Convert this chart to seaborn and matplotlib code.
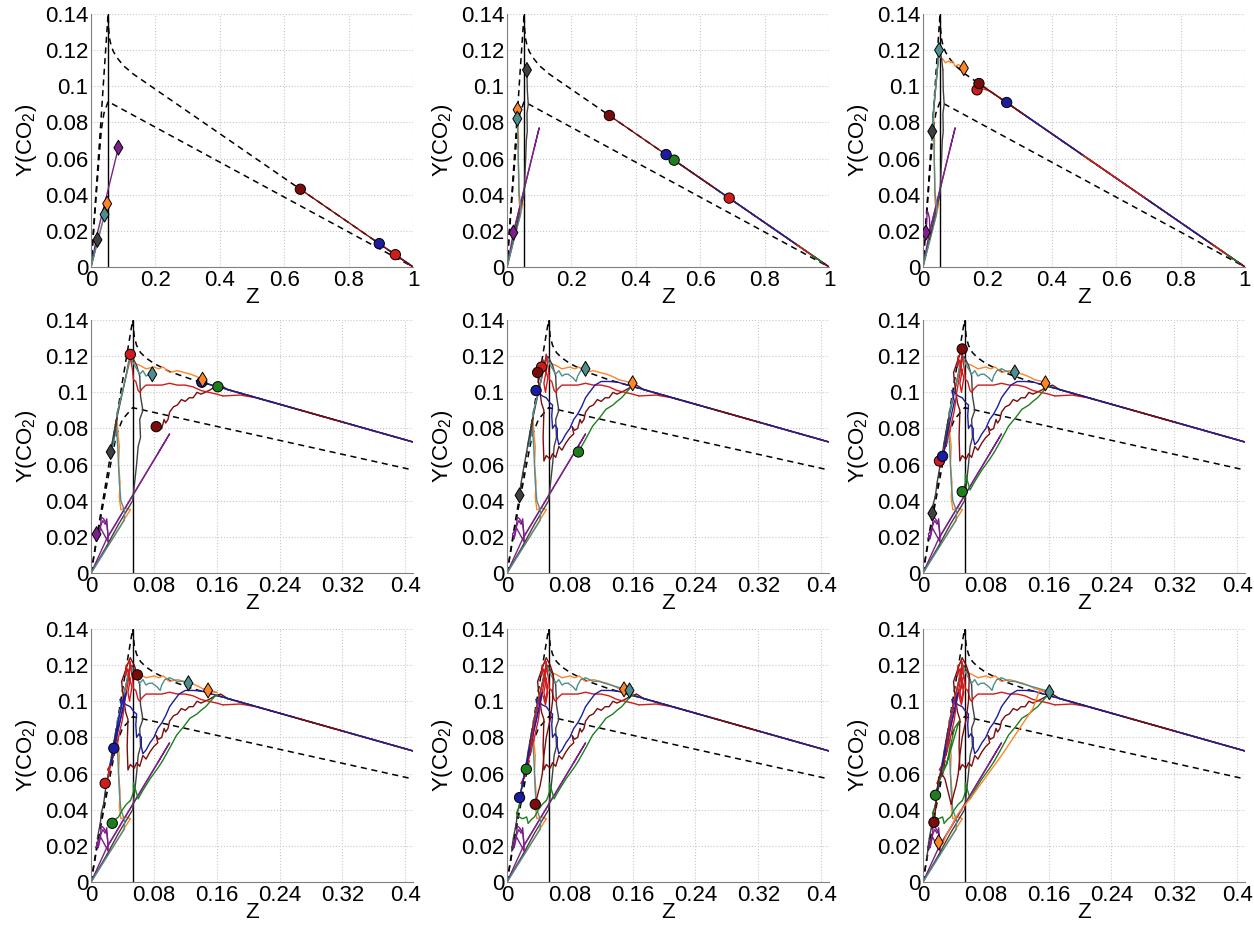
import numpy as np
import pandas as pd
import seaborn as sns
import matplotlib.pyplot as plt
from matplotlib.ticker import FormatStrFormatter

sns.set_style('white')
plt.rcParams['font.family'] = ['Liberation Sans', 'DejaVu Sans']
plt.rcParams['mathtext.fontset'] = 'custom'
plt.rcParams['mathtext.rm'] = 'Liberation Sans'
plt.rcParams['mathtext.it'] = 'Liberation Sans:italic'

# boundaries of the accessible region (dashed) and stoichiometric Z (solid)
upper_z = [0, 0.01, 0.02, 0.03, 0.04, 0.048, 0.053, 0.055, 0.058, 0.063, 0.07, 0.08, 0.1, 0.13, 1.0]
upper_y = [0, 0.027, 0.053, 0.079, 0.106, 0.127, 0.14, 0.131, 0.126, 0.122, 0.119, 0.116, 0.1115, 0.1069, 0.0]
lower_z = [0, 0.012, 0.024, 0.032, 0.04, 0.053, 1.0]
lower_y = [0, 0.03, 0.058, 0.076, 0.085, 0.0915, 0.0]
stoich_z = [0.053, 0.053]
stoich_y = [0.0, 0.14]

# particle paths, one list of (Z, Y) points per snapshot t1..t9
# the last point of each list is the particle position at that snapshot
orange = [
    [(0, 0), (0.05, 0.035)],
    [(0.045, 0.036), (0.038, 0.035), (0.036, 0.042), (0.037, 0.05), (0.035, 0.06), (0.036, 0.07), (0.034, 0.078), (0.033, 0.087)],
    [(0.037, 0.095), (0.044, 0.108), (0.05, 0.118), (0.055, 0.116), (0.062, 0.115), (0.07, 0.113), (0.08, 0.114), (0.086, 0.113), (0.092, 0.114), (0.1, 0.111), (0.11, 0.112), (0.127, 0.11)],
    [(0.133, 0.109), (0.138, 0.108), (0.142, 0.107)],
    [(0.152, 0.106), (0.16, 0.105)],
    [(0.156, 0.105)],
    [(0.149, 0.106)],
    [(0.149, 0.1066)],
    [(0.14, 0.096), (0.12, 0.083), (0.1, 0.07), (0.08, 0.058), (0.06, 0.046), (0.045, 0.038), (0.035, 0.03), (0.03, 0.026), (0.025, 0.021), (0.02, 0.022)],
]
purple = [
    [(0, 0), (0.02, 0.019), (0.085, 0.066)],
    [(0.1, 0.077), (0.02, 0.019)],
    [(0.022, 0.02), (0.02, 0.027), (0.016, 0.03), (0.013, 0.031), (0.012, 0.025), (0.009, 0.019)],
    [(0.012, 0.026), (0.015, 0.029), (0.018, 0.027), (0.02, 0.03), (0.021, 0.024), (0.022, 0.017), (0.012, 0.025), (0.007, 0.0215)],
    [(0.008, 0.02)],
    [(0.006, 0.019)],
    [(0.009, 0.022)],
    [(0.007, 0.02)],
    [(0.006, 0.02)],
]
gray = [
    [(0, 0), (0.02, 0.015)],
    [(0.035, 0.027), (0.053, 0.04), (0.056, 0.052), (0.058, 0.06), (0.06, 0.07), (0.063, 0.075), (0.062, 0.085), (0.066, 0.09), (0.063, 0.098), (0.062, 0.109)],
    [(0.058, 0.115), (0.052, 0.12), (0.048, 0.117), (0.045, 0.11), (0.04, 0.1), (0.035, 0.09), (0.031, 0.082), (0.029, 0.075)],
    [(0.031, 0.08), (0.033, 0.086), (0.028, 0.075), (0.025, 0.067)],
    [(0.022, 0.06), (0.02, 0.055), (0.018, 0.05), (0.016, 0.043)],
    [(0.013, 0.038), (0.012, 0.033)],
    [(0.008, 0.024)],
    [(0.006, 0.017)],
    [(0.005, 0.013)],
]
teal = [
    [(0, 0), (0.042, 0.029)],
    [(0.043, 0.034), (0.038, 0.04), (0.036, 0.05), (0.035, 0.06), (0.034, 0.07), (0.032, 0.082)],
    [(0.03, 0.076), (0.028, 0.07), (0.034, 0.09), (0.04, 0.1), (0.045, 0.11), (0.05, 0.12)],
    [(0.054, 0.116), (0.058, 0.113), (0.062, 0.11), (0.066, 0.112), (0.07, 0.109), (0.074, 0.11), (0.078, 0.11)],
    [(0.084, 0.108), (0.088, 0.106), (0.09, 0.109), (0.094, 0.112), (0.1, 0.113)],
    [(0.105, 0.112), (0.11, 0.111), (0.117, 0.111)],
    [(0.124, 0.11)],
    [(0.14, 0.108), (0.156, 0.106)],
    [(0.161, 0.105)],
]
green = [
    [(1.0, 0.0), (0.98, 0.0025)],
    [(0.519, 0.0591)],
    [(0.18, 0.1008)],
    [(0.1615, 0.1031)],
    [(0.158, 0.103), (0.152, 0.1), (0.146, 0.097), (0.14, 0.095), (0.135, 0.093), (0.126, 0.0906), (0.118, 0.086), (0.109, 0.0813), (0.1, 0.074), (0.091, 0.067)],
    [(0.085, 0.063), (0.075, 0.057), (0.065, 0.05), (0.06, 0.046), (0.056, 0.052), (0.054, 0.055), (0.054, 0.05), (0.052, 0.047), (0.05, 0.045)],
    [(0.045, 0.043), (0.04, 0.04), (0.035, 0.036), (0.032, 0.035), (0.027, 0.0325)],
    [(0.025, 0.036), (0.02, 0.035), (0.015, 0.036), (0.012, 0.038), (0.016, 0.042), (0.018, 0.05), (0.02, 0.056), (0.0246, 0.0624)],
    [(0.03, 0.065), (0.035, 0.075), (0.04, 0.085), (0.046, 0.089), (0.04, 0.08), (0.03, 0.065), (0.02, 0.055), (0.016, 0.048)],
]
darkred = [
    [(1.0, 0.0), (0.65, 0.043)],
    [(0.318, 0.0838)],
    [(0.174, 0.1015)],
    [(0.165, 0.104), (0.158, 0.103), (0.15, 0.101), (0.145, 0.1), (0.14, 0.099), (0.135, 0.1), (0.13, 0.097), (0.125, 0.097), (0.12, 0.095), (0.115, 0.096), (0.11, 0.093), (0.105, 0.092), (0.1, 0.089), (0.098, 0.085), (0.095, 0.083), (0.093, 0.085), (0.09, 0.08), (0.086, 0.079), (0.083, 0.081)],
    [(0.085, 0.077), (0.08, 0.075), (0.075, 0.072), (0.07, 0.068), (0.066, 0.07), (0.062, 0.064), (0.058, 0.066), (0.055, 0.063), (0.05, 0.065), (0.047, 0.062), (0.046, 0.075), (0.047, 0.09), (0.044, 0.094), (0.042, 0.1), (0.04, 0.106), (0.039, 0.111)],
    [(0.043, 0.116), (0.047, 0.121), (0.05, 0.124)],
    [(0.055, 0.12), (0.059, 0.1146)],
    [(0.058, 0.1), (0.055, 0.09), (0.05, 0.08), (0.047, 0.07), (0.045, 0.06), (0.042, 0.053), (0.04, 0.05), (0.036, 0.043)],
    [(0.032, 0.05), (0.028, 0.057), (0.024, 0.06), (0.02, 0.058), (0.018, 0.05), (0.016, 0.04), (0.014, 0.033)],
]
red = [
    [(1.0, 0.0), (0.945, 0.0068)],
    [(0.69, 0.0381)],
    [(0.23, 0.0946), (0.21, 0.097), (0.19, 0.0985), (0.168, 0.098)],
    [(0.16, 0.099), (0.15, 0.1), (0.14, 0.101), (0.13, 0.103), (0.12, 0.104), (0.11, 0.104), (0.1, 0.105), (0.09, 0.104), (0.08, 0.104), (0.07, 0.104), (0.065, 0.102), (0.062, 0.1), (0.06, 0.101), (0.057, 0.106), (0.054, 0.107), (0.053, 0.112), (0.051, 0.117), (0.05, 0.121)],
    [(0.048, 0.115), (0.052, 0.108), (0.049, 0.1), (0.047, 0.105), (0.05, 0.112), (0.046, 0.118), (0.044, 0.114)],
    [(0.045, 0.12), (0.05, 0.122), (0.047, 0.11), (0.043, 0.1), (0.04, 0.09), (0.035, 0.08), (0.03, 0.072), (0.026, 0.066), (0.021, 0.062)],
    [(0.025, 0.065), (0.022, 0.058), (0.018, 0.0546)],
    [(0.025, 0.06), (0.03, 0.075), (0.035, 0.09), (0.04, 0.1), (0.045, 0.11), (0.05, 0.118), (0.048, 0.112), (0.052, 0.105), (0.049, 0.098), (0.046, 0.103)],
    [(0.05, 0.11), (0.048, 0.118), (0.052, 0.114), (0.047, 0.106)],
]
blue = [
    [(1.0, 0.0), (0.895, 0.0129)],
    [(0.494, 0.0622)],
    [(0.26, 0.091)],
    [(0.141, 0.1056)],
    [(0.13, 0.106), (0.12, 0.106), (0.112, 0.104), (0.105, 0.1), (0.1, 0.097), (0.095, 0.092), (0.09, 0.088), (0.085, 0.085), (0.08, 0.08), (0.075, 0.077), (0.07, 0.073), (0.066, 0.071), (0.064, 0.075), (0.064, 0.08), (0.061, 0.082), (0.058, 0.08), (0.057, 0.087), (0.058, 0.093), (0.055, 0.094), (0.05, 0.097), (0.045, 0.098), (0.04, 0.1), (0.037, 0.101)],
    [(0.04, 0.095), (0.035, 0.085), (0.03, 0.075), (0.027, 0.068), (0.025, 0.0646)],
    [(0.035, 0.09), (0.04, 0.1), (0.045, 0.105), (0.04, 0.095), (0.033, 0.082), (0.029, 0.074)],
    [(0.025, 0.065), (0.02, 0.055), (0.016, 0.0467)],
    [(0.018, 0.05), (0.02, 0.052)],
]

# is the marker visible at snapshot t1..t9
shown = {
    'orange':  [1, 1, 1, 1, 1, 1, 1, 1, 1],
    'purple':  [1, 1, 1, 1, 0, 0, 0, 0, 0],
    'gray':    [1, 1, 1, 1, 1, 1, 0, 0, 0],
    'teal':    [1, 1, 1, 1, 1, 1, 1, 1, 1],
    'green':   [0, 1, 0, 1, 1, 1, 1, 1, 1],
    'darkred': [1, 1, 1, 1, 1, 1, 1, 1, 1],
    'red':     [1, 1, 1, 1, 1, 1, 1, 0, 0],
    'blue':    [1, 1, 1, 1, 1, 1, 1, 1, 0],
}

paths = {'orange': orange, 'purple': purple, 'gray': gray, 'teal': teal,
         'green': green, 'darkred': darkred, 'red': red, 'blue': blue}
colors = {'orange': '#ff8426', 'purple': '#7d1f8a', 'gray': '#404040', 'teal': '#4f8e8e',
          'green': '#1e7e1e', 'darkred': '#7a0c0c', 'red': '#d01c1c', 'blue': '#1c1ca0'}
diamonds = ['orange', 'purple', 'gray', 'teal']
order = ['orange', 'purple', 'gray', 'teal', 'green', 'red', 'blue', 'darkred']

xticks_wide = [0, 0.2, 0.4, 0.6, 0.8, 1.0]
xticks_zoom = [0, 0.08, 0.16, 0.24, 0.32, 0.4]
yticks = [0, 0.02, 0.04, 0.06, 0.08, 0.1, 0.12, 0.14]

fig = plt.figure(figsize=(12.54, 9.25), dpi=100)
lefts = [0.0726, 0.4043, 0.7360]
bottoms = [0.7114, 0.3805, 0.0465]

for k in range(9):
    r, c = divmod(k, 3)
    ax = fig.add_axes([lefts[c], bottoms[r], 0.2568, 0.2735])

    sns.lineplot(x=upper_z, y=upper_y, sort=False, estimator=None, color='black',
                 lw=1.1, linestyle=(0, (4, 3)), ax=ax)
    sns.lineplot(x=lower_z, y=lower_y, sort=False, estimator=None, color='black',
                 lw=1.1, linestyle=(0, (4, 3)), ax=ax)
    sns.lineplot(x=stoich_z, y=stoich_y, sort=False, estimator=None, color='black',
                 lw=1.0, ax=ax)

    # trajectories up to snapshot k, drawn step by step
    rows = []
    pal = {}
    hue_order = []
    for s in range(k + 1):
        # blue last from t4 on, it lies on the right part of the upper line
        step_order = order if s < 3 else ['orange', 'purple', 'gray', 'teal', 'green', 'darkred', 'red', 'blue']
        for name in step_order:
            pts = list(paths[name][s])
            if s > 0:
                pts = [paths[name][s - 1][-1]] + pts
            seg = f'{s}_{name}'
            pal[seg] = colors[name]
            hue_order.append(seg)
            for z, y in pts:
                rows.append((z, y, seg))
    df = pd.DataFrame(rows, columns=['Z', 'Y', 'seg'])
    sns.lineplot(data=df, x='Z', y='Y', hue='seg', hue_order=hue_order, palette=pal,
                 sort=False, estimator=None, lw=1.0, legend=False, ax=ax)

    # current positions
    mk = pd.DataFrame([(paths[n][k][-1][0], paths[n][k][-1][1], n) for n in order if shown[n][k]],
                      columns=['Z', 'Y', 'name'])
    circ = mk[~mk['name'].isin(diamonds)]
    diam = mk[mk['name'].isin(diamonds)]
    sns.scatterplot(data=circ, x='Z', y='Y', hue='name', palette=colors, marker='o', s=55,
                    edgecolor='black', linewidth=0.7, legend=False, zorder=5, ax=ax)
    sns.scatterplot(data=diam, x='Z', y='Y', hue='name', palette=colors, marker='d', s=58,
                    edgecolor='black', linewidth=0.7, legend=False, zorder=5, ax=ax)

    ax.set_xlim(0, 1.0 if r == 0 else 0.41)
    ax.set_ylim(0, 0.14)
    ax.set_xticks(xticks_wide if r == 0 else xticks_zoom)
    ax.set_yticks(yticks)
    ax.xaxis.set_major_formatter(FormatStrFormatter('%g'))
    ax.yaxis.set_major_formatter(FormatStrFormatter('%g'))
    ax.grid(True, ls=':', color='#c8c8c8', lw=0.8)
    sns.despine(ax=ax)
    for sp in ['left', 'bottom']:
        ax.spines[sp].set_color('#808080')
    ax.tick_params(direction='in', length=3, labelsize=16, pad=2, color='#808080',
                   labelcolor='black')
    ax.set_xlabel('Z', fontsize=16, labelpad=-3, color='black')
    ax.set_ylabel('Y(CO$_2$)', fontsize=16, labelpad=4, color='black')

fig.savefig('out.png', dpi=100)
